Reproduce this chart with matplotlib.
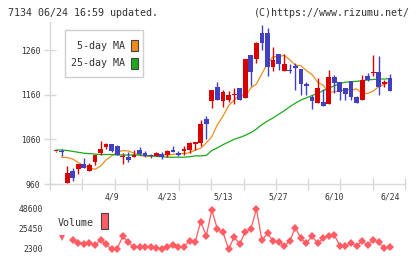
import matplotlib
matplotlib.use("Agg")
import matplotlib.pyplot as plt
import matplotlib.transforms as mtrans
import numpy as np
from matplotlib.patches import Rectangle

# ---------------- data ----------------
opens = [1033, 1034, 963, 989, 994, 1005, 990, 1010, 1030, 1043,
         1050, 1046, 1020, 1021, 1021, 1036, 1030, 1025, 1023, 1027,
         1024, 1036, 1029, 1035, 1036, 1050, 1052, 1105, 1146, 1178,
         1146, 1148, 1160, 1174, 1153, 1249, 1240, 1297, 1297, 1223,
         1252, 1214, 1214, 1224, 1217, 1183, 1154, 1142, 1143, 1140,
         1199, 1188, 1174, 1190, 1154, 1148, 1201, 1209, 1210, 1184, 1197]
highs = [1034, 1038, 1000, 996, 1005, 1018, 1007, 1026, 1057, 1051,
         1050, 1048, 1029, 1032, 1036, 1042, 1034, 1027, 1031, 1032,
         1036, 1046, 1034, 1046, 1055, 1055, 1103, 1113, 1171, 1189,
         1170, 1169, 1174, 1175, 1240, 1249, 1277, 1316, 1310, 1266,
         1252, 1251, 1228, 1232, 1217, 1188, 1159, 1197, 1172, 1215,
         1204, 1188, 1174, 1191, 1157, 1204, 1209, 1249, 1246, 1193, 1206]
lows = [1032, 1023, 962, 967, 983, 996, 990, 1002, 1026, 1038,
        1032, 1024, 1005, 1010, 1021, 1026, 1021, 1018, 1022, 1017,
        1021, 1031, 1023, 1026, 1029, 1036, 1046, 1060, 1131, 1147,
        1133, 1143, 1140, 1148, 1153, 1179, 1232, 1260, 1202, 1214,
        1215, 1213, 1209, 1170, 1159, 1159, 1128, 1142, 1135, 1139,
        1164, 1148, 1148, 1148, 1142, 1148, 1191, 1202, 1159, 1178, 1169]
closes = [1034, 1032, 984, 973, 1005, 996, 1003, 1026, 1038, 1050,
          1035, 1026, 1021, 1014, 1025, 1027, 1023, 1022, 1030, 1021,
          1034, 1032, 1024, 1037, 1051, 1054, 1094, 1094, 1170, 1148,
          1167, 1159, 1162, 1148, 1240, 1211, 1276, 1276, 1223, 1237,
          1228, 1228, 1212, 1220, 1184, 1180, 1146, 1174, 1135, 1200,
          1187, 1166, 1161, 1154, 1142, 1192, 1192, 1211, 1178, 1188, 1169]
ma5 = [np.nan, 1020, 1019, 1016, 1008, 1001, 996, 993, 1000, 1014,
       1023, 1031, 1035, 1034, 1029, 1024, 1022, 1022, 1024, 1025,
       1025, 1026, 1028, 1028, 1030, 1036, 1040, 1052, 1066, 1093,
       1112, 1135, 1148, 1161, 1157, 1175, 1184, 1207, 1230, 1245,
       1245, 1248, 1238, 1226, 1225, 1214, 1205, 1188, 1181, 1164,
       1167, 1168, 1172, 1170, 1173, 1162, 1163, 1168, 1178, 1183, 1190]
ma25 = [1036, 1036, 1035, 1033, 1031, 1029, 1028, 1027, 1026, 1026,
        1026, 1025, 1025, 1025, 1025, 1025, 1024, 1023, 1022, 1021,
        1020, 1020, 1020, 1020, 1021, 1023, 1023, 1024, 1035, 1041,
        1048, 1054, 1060, 1064, 1069, 1075, 1083, 1093, 1101, 1108,
        1116, 1124, 1133, 1141, 1148, 1153, 1158, 1163, 1169, 1174,
        1180, 1185, 1188, 1189, 1190, 1191, 1193, 1194, 1195, 1195, 1196]
volume = [np.nan, 15400, np.nan, 12700, 8900, 7700, 8900, 6900, 12700, 7700,
          2000, 2600, 17300, 10000, 4300, 4300, 5000, 4300, 3800, 2000,
          4300, 6900, 4300, 5000, 11900, 10700, 33900, 17700, 47400, 25100,
          21600, 2300, 16000, 8100, 22300, 25100, 48600, 12300, 20500, 11600,
          10800, 5800, 11600, 27000, 14500, 8900, 17300, 8900, 14700, 17300,
          18500, 5800, 5800, 8900, 5800, 11900, 6900, 12700, 10000, 3100, 5000]
date_labels = ["4/9", "4/23", "5/13", "5/27", "6/10", "6/24"]
date_idx = [10, 20, 30, 40, 50, 60]
price_ticks = [960, 1060, 1160, 1260]
vol_ticks = [2300, 25450, 48600]

# ---------------- styling ----------------
W, H = 420, 259
MONO = "DejaVu Sans Mono"
RED = "#d80000"
BLUE = "#4040c0"
ORANGE = "#f08c1c"
GREEN = "#1aaa1a"
VOLC = "#ff5c64"
GRID = "#d8d8d8"
TXT = "#333333"

fig = plt.figure(figsize=(4.2, 2.59), dpi=100)
fig.patch.set_facecolor("white")


def rect(x0, y0, x1, y1):
    return [x0 / W, 1 - y1 / H, (x1 - x0) / W, (y1 - y0) / H]


def fx(x):
    return x / W


def fy(y):
    return 1 - y / H


n = len(closes)
idx = np.arange(n)
xlim = (-1.08, 62.7)

# ---------------- price panel ----------------
ax = fig.add_axes(rect(50, 22, 405, 184))
ax.set_xlim(*xlim)
ax.set_ylim(960, 1322.7)
for s in ["top", "right"]:
    ax.spines[s].set_visible(False)
for s in ["left", "bottom"]:
    ax.spines[s].set_color(GRID)
    ax.spines[s].set_linewidth(1.0)

bw = 0.86
for i in range(n):
    o, h, l, c = opens[i], highs[i], lows[i], closes[i]
    col = RED if c >= o else BLUE
    ax.vlines(i, l, h, color=col, lw=1.0, zorder=3)
    bot = min(o, c)
    hgt = max(abs(c - o), 2.4)
    ax.add_patch(Rectangle((i - bw / 2, bot), bw, hgt, facecolor=col,
                           edgecolor="none", zorder=4))

ax.plot(idx, ma5, color=ORANGE, lw=0.9, zorder=2)
ax.plot(idx, ma25, color=GREEN, lw=0.9, zorder=2)

ax.set_yticks(price_ticks)
ax.set_yticklabels([str(t) for t in price_ticks], fontfamily=MONO,
                   fontsize=5.8, color=TXT)
ax.tick_params(axis="y", direction="inout", length=8, width=1,
               color=GRID, pad=3)
ax.set_xticks(np.linspace(xlim[0], xlim[1], 12))
ax.set_xticklabels([])
ax.tick_params(axis="x", direction="inout", length=8, width=1, color=GRID)

blend = mtrans.blended_transform_factory(ax.transData, fig.transFigure)
for lab, di in zip(date_labels, date_idx):
    ax.text(di, fy(197), lab, transform=blend, ha="center", va="center",
            fontfamily=MONO, fontsize=5.8, color=TXT)

# legend box
fig.add_artist(Rectangle((fx(65), fy(77)), fx(78), 47 / H, transform=fig.transFigure,
                         facecolor="white", edgecolor="#cfcfcf", lw=1.0, zorder=10))
fig.text(fx(125), fy(45.7), "5-day MA", ha="right", va="center", fontfamily=MONO,
         fontsize=7.2, color=TXT, zorder=11)
fig.text(fx(125), fy(63.3), "25-day MA", ha="right", va="center", fontfamily=MONO,
         fontsize=7.2, color=TXT, zorder=11)
fig.add_artist(Rectangle((fx(131), fy(51)), fx(7), 10.5 / H, transform=fig.transFigure,
                         facecolor=ORANGE, edgecolor="#444444", lw=0.8, zorder=11))
fig.add_artist(Rectangle((fx(131), fy(69)), fx(7), 11 / H, transform=fig.transFigure,
                         facecolor=GREEN, edgecolor="#444444", lw=0.8, zorder=11))

# ---------------- volume panel ----------------
axv = fig.add_axes(rect(50, 203, 405, 255))
axv.set_xlim(*xlim)
axv.set_ylim(2300 - 6 * 1157.5, 48600 + 6 * 1157.5)
for s in axv.spines.values():
    s.set_visible(False)
vol = np.array(volume, dtype=float)
iso = [i for i in range(n) if not np.isnan(vol[i])
       and (i == 0 or np.isnan(vol[i - 1])) and (i == n - 1 or np.isnan(vol[i + 1]))]
vol_line = vol.copy()
vol_line[iso] = np.nan
axv.plot(idx, vol_line, color=VOLC, lw=0.9, marker="D", markersize=3.8,
         markeredgewidth=0, zorder=3)
axv.plot(idx[iso], vol[iso], linestyle="none", marker="v", markersize=4.2,
         color=VOLC, markeredgewidth=0, zorder=3)
axv.set_xticks([])
axv.set_yticks(vol_ticks)
axv.set_yticklabels([str(t) for t in vol_ticks], fontfamily=MONO, fontsize=5.8, color=TXT)
axv.tick_params(axis="y", length=0, pad=5)

fig.text(fx(58), fy(222.5), "Volume", ha="left", va="center", fontfamily=MONO,
         fontsize=7.2, color=TXT)
fig.add_artist(Rectangle((fx(101), fy(228.5)), fx(7), 15.5 / H, transform=fig.transFigure,
                         facecolor=VOLC, edgecolor="#444444", lw=0.8))

# ---------------- header ----------------
fig.text(fx(8), fy(12.5), "7134 06/24 16:59 updated.", ha="left", va="center",
         fontfamily=MONO, fontsize=7.2, color=TXT)
fig.text(fx(410), fy(12.5), "(C)https://www.rizumu.net/", ha="right", va="center",
         fontfamily=MONO, fontsize=7.2, color=TXT)

fig.savefig("out.png", dpi=100, facecolor="white")
